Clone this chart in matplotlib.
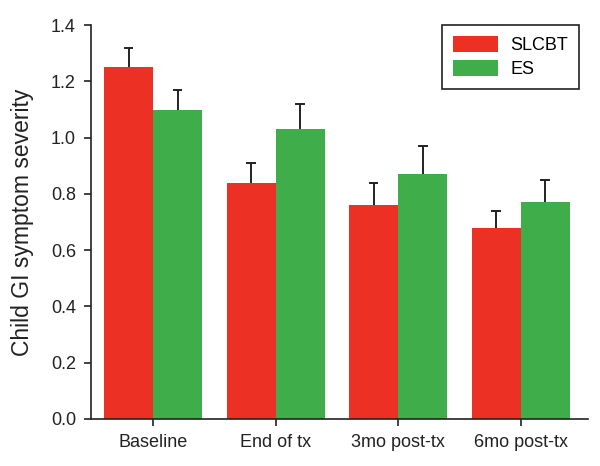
import matplotlib
matplotlib.use('Agg')
import matplotlib.pyplot as plt
import numpy as np

plt.rcParams['font.family'] = ['Liberation Sans', 'DejaVu Sans']

timepoints = ['Baseline', 'End of tx', '3mo post-tx', '6mo post-tx']
slcbt_mean = [1.25, 0.84, 0.76, 0.68]
slcbt_err = [0.07, 0.07, 0.08, 0.06]
es_mean = [1.10, 1.03, 0.87, 0.77]
es_err = [0.07, 0.09, 0.10, 0.08]

red = '#ec3024'
green = '#40ad4b'

fig = plt.figure(figsize=(6, 4.66), dpi=100)
ax = fig.add_axes([0.152, 0.101, 0.828, 0.845])

x = np.arange(len(timepoints))
w = 0.4
ax.bar(x - w / 2, slcbt_mean, w, color=red, label='SLCBT', zorder=2)
ax.bar(x + w / 2, es_mean, w, color=green, label='ES', zorder=2)

# upper-only error bars
cap = 0.04
for xs, m, e in [(x - w / 2, slcbt_mean, slcbt_err), (x + w / 2, es_mean, es_err)]:
    top = np.array(m) + np.array(e)
    ax.vlines(xs, m, top, color='#222222', lw=1.4, zorder=3)
    ax.hlines(top, xs - cap, xs + cap, color='#222222', lw=1.4, zorder=3)

ax.set_xlim(-0.505, 3.55)
ax.set_ylim(0, 1.4)
ticks = np.arange(0, 1.41, 0.2)
ax.set_yticks(ticks)
ax.set_yticklabels(['%.1f' % v for v in ticks])
ax.set_xticks(x)
ax.set_xticklabels(timepoints)
ax.tick_params(labelsize=13, colors='#222222', length=5, width=1.2, pad=6)
for s in ['top', 'right']:
    ax.spines[s].set_visible(False)
for s in ['left', 'bottom']:
    ax.spines[s].set_linewidth(1.2)
    ax.spines[s].set_color('#222222')
ax.set_ylabel('Child GI symptom severity', fontsize=16.5, color='#222222', labelpad=12)

leg = ax.legend(loc='upper right', bbox_to_anchor=(0.982, 1.0), fontsize=13,
                fancybox=False, edgecolor='#222222', framealpha=1, borderaxespad=0,
                handlelength=2.5, handleheight=1.0, borderpad=0.6, labelspacing=0.3,
                handletextpad=0.7)
leg.get_frame().set_linewidth(1.2)

fig.savefig('out.png', dpi=100)
